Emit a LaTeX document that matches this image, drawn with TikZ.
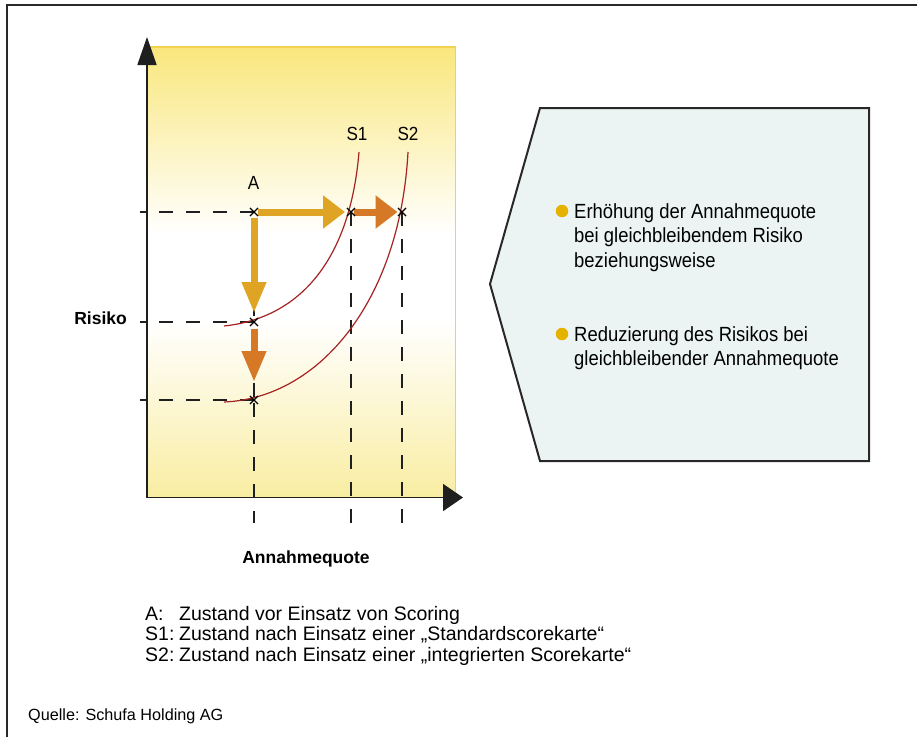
\documentclass[tikz,border=0pt]{standalone}
\usepackage{fontspec}
\setmainfont{Liberation Sans}
\newfontfamily\narrowface[FakeStretch=0.9]{Liberation Sans}
\usetikzlibrary{arrows.meta, shapes.misc}

\definecolor{framegray}{RGB}{40,40,40}
\definecolor{fieldtop}{RGB}{249,231,125}
\definecolor{fieldbottom}{RGB}{249,237,162}
\definecolor{fieldedge}{RGB}{242,210,78}
\definecolor{arrowyellow}{RGB}{224,164,36}
\definecolor{arroworange}{RGB}{213,121,39}
\definecolor{curvered}{RGB}{165,35,35}
\definecolor{boxfill}{RGB}{235,244,243}
\definecolor{bulletyellow}{RGB}{230,178,0}

\newcommand{\calloutfont}{\narrowface\fontsize{20.5}{24.5}\selectfont}
\newcommand{\legendfont}{\fontsize{19.5}{20.5}\selectfont}
\newcommand{\pointfont}{\narrowface\fontsize{19}{20}\selectfont}
\newcommand{\axisfont}{\fontsize{17.5}{20}\bfseries\selectfont}
\newcommand{\sourcefont}{\fontsize{16.2}{20}\selectfont}

\tikzset{
  guide/.style={line width=2.6pt, draw=black!88, dash pattern=on 14pt off 13pt},
  xmark/.style={draw, cross out, minimum size=7pt, inner sep=0pt, line width=1.1pt},
  axis/.style={line width=1.8pt, draw=black!88},
  isoquant/.style={draw=curvered, line width=1.2pt},
  hmove/.style={line width=7pt, -{Triangle[length=22pt, width=32pt]}},
  vmove/.style={line width=7pt, -{Triangle[length=31pt, width=23pt]}},
  callout/.style={draw=framegray, line width=2pt, fill=boxfill},
  bullet/.style={circle, fill=bulletyellow, minimum size=12.5pt, inner sep=0pt}
}

\begin{document}
\begin{tikzpicture}[x=1pt, y=-1pt]
\useasboundingbox (0,0) rectangle (917,737);
\draw [framegray, line width=2pt] (7,737) -- (7,5) -- (917,5);

% field
\shade [top color=fieldtop, bottom color=white] (147,47) rectangle (455.5,235);
\fill [white] (147,235) rectangle (455.5,320);
\shade [top color=white, bottom color=fieldbottom] (147,320) rectangle (455.5,497.5);
\draw [fieldedge, line width=1.5pt] (147,47) -- (455.5,47) -- (455.5,497.5);

\coordinate (O) at (147,497.5);
\coordinate (ytip) at (147,37);
\coordinate (xtip) at (463,497.5);
\coordinate (A) at (254,212);
\coordinate (S1) at (351,212);
\coordinate (S2) at (402,212);
\coordinate (A1) at (254,322);
\coordinate (A2) at (254,400);
\coordinate (left) at (140,0);
\coordinate (base) at (0,523);

% guides
\foreach \p in {A, A1, A2}
  \draw [guide] (\p) -- (left |- \p);
\foreach \p in {S1, S2}
  \draw [guide] (\p) -- (\p |- base);
\draw [guide, dash phase=18pt] (A) -- (A2);
\draw [guide, dash phase=24pt] (A2) -- (A2 |- base);

% curves
\draw [isoquant] (224,326) .. controls (300,318) and (350,260) .. (359,152);
\draw [isoquant] (224,402) .. controls (320,398) and (400,300) .. (408,152);

% moves
\draw [hmove, arrowyellow, shorten <=4pt, shorten >=6pt] (A) -- (S1);
\draw [hmove, arroworange, shorten <=3pt, shorten >=4.5pt] (S1) -- (S2);
\draw [vmove, arrowyellow, shorten <=6pt, shorten >=9pt] (A) -- (A1);
\draw [vmove, arroworange, shorten <=7pt, shorten >=18pt] (A1) -- (A2);

\foreach \p in {A, S1, S2, A1, A2}
  \node [xmark] (x\p) at (\p) {};

% axes
\draw [axis, -{Triangle[length=28pt, width=19pt]}] (O) -- (ytip);
\draw [axis, -{Triangle[length=20pt, width=27pt]}] (O) -- (xtip);

%Text
\node (lA) [anchor=base, inner sep=0pt, font=\pointfont] at (253.5,189) {A};
\node (lS1) [anchor=base, inner sep=0pt, font=\pointfont] at (357,140) {S1};
\node (lS2) [anchor=base, inner sep=0pt, font=\pointfont] at (408,140) {S2};
\node (risk) [anchor=base east, inner sep=0pt, font=\axisfont] at (127,324) {Risiko};
\node (quote) [anchor=base, inner sep=0pt, font=\axisfont] at (306,563) {Annahmequote};

% callout
\draw [callout] (540,108) -- (869,108) -- (869,461) -- (540,461) -- (490,284) -- cycle;
\node (b1) [bullet] at (562,211) {};
\node (t1) [anchor=base west, inner sep=0pt, font=\calloutfont] at (574,218)
  {\begin{tabular}[t]{@{}l@{}}Erhöhung der Annahmequote\\bei gleichbleibendem Risiko\\beziehungsweise\end{tabular}};
\node (b2) [bullet] at (562,334) {};
\node (t2) [anchor=base west, inner sep=0pt, font=\calloutfont] at (574,341)
  {\begin{tabular}[t]{@{}l@{}}Reduzierung des Risikos bei\\gleichbleibender Annahmequote\end{tabular}};

% legend
\node (legend) [anchor=base west, inner sep=0pt, font=\legendfont] at (145,620)
  {\begin{tabular}[t]{@{}p{34pt}@{}l@{}}
   A: & Zustand vor Einsatz von Scoring\\
   S1: & Zustand nach Einsatz einer „Standardscorekarte“\\
   S2: & Zustand nach Einsatz einer „integrierten Scorekarte“
   \end{tabular}};
\node (source) [anchor=base west, inner sep=0pt, font=\sourcefont] at (28,720) {Quelle: Schufa Holding AG};
\end{tikzpicture}
\end{document}
